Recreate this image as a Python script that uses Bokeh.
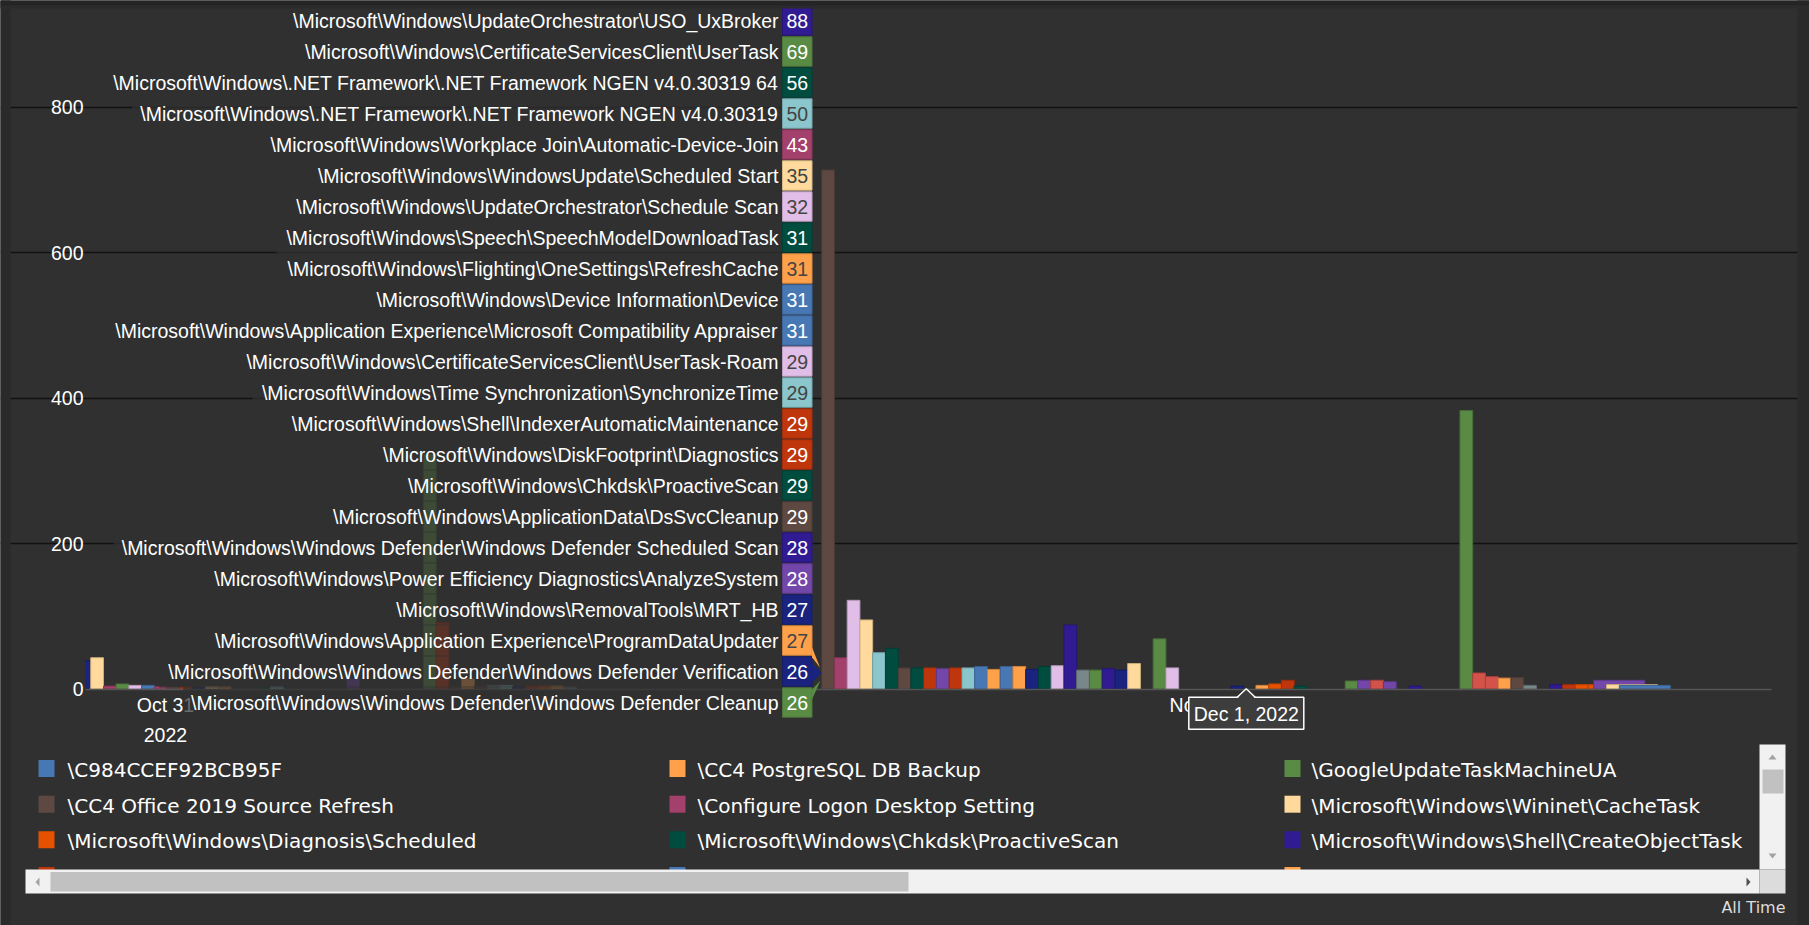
from bokeh.plotting import figure
from bokeh.models import Range1d, LinearAxis, FixedTicker, Grid, ColumnDataSource
from bokeh.core.properties import value
from bokeh.embed import file_html
from bokeh.resources import INLINE

# ------------------------------------------------------------------ data
PALETTE = {
    "blue": "#4878b4", "orange": "#ffa14b", "green": "#5a8b45", "brown": "#5d4842",
    "magenta": "#a3406b", "yellow": "#ffda9c", "orangered": "#e65100", "darkgreen": "#004d40",
    "indigo": "#311b92", "crimson": "#bf360c", "navy": "#1a237e", "purple": "#7346aa",
    "lightblue": "#8ac6cc", "lavender": "#e1bee7", "gray": "#78888a", "red": "#d3524a",
}

# bar positions are in "bar slots" along the time axis
bar_x = [-0.09, 0.91, 1.92, 2.9, 3.9, 4.9, 5.9, 6.9, 7.9, 8.9, 9.9, 10.9, 14.0, 15.0,
         21.0, 27.0, 28.0, 29.0, 30.0, 31.0, 32.0, 33.0, 34.0, 35.0, 36.0, 37.0, 38.0,
         58.24, 59.24, 60.24, 61.24, 62.24, 63.24, 64.24, 65.24, 66.24, 67.24, 68.24,
         69.24, 70.24, 71.24, 72.24, 73.24, 74.24, 75.24, 76.24, 77.24, 78.24, 79.24,
         80.24, 81.24, 82.24, 84.24, 85.24,
         90.33, 92.3, 93.3, 94.3, 95.3, 99.3, 100.3, 101.3, 102.3, 104.3,
         108.3, 109.3, 110.3, 111.3, 112.3, 113.3,
         115.35, 116.35, 117.35, 118.35, 120.3, 121.3, 122.3]
bar_value = [39, 43, 4, 7, 5, 5, 3, 3, 3, 2, 3, 3, 3, 3,
             14, 323, 91, 3, 14, 4, 5, 5, 3, 4, 4, 4, 3,
             714, 43, 122, 95, 50, 56, 29, 29, 29, 28, 29,
             29, 31, 27, 31, 31, 27, 31, 32, 88, 26, 26,
             28, 26, 35, 69, 29,
             4, 5, 7, 12, 4, 11, 12, 12, 10, 4,
             383, 22, 17, 15, 16, 5,
             6, 6, 6, 6, 12, 6, 5]
bar_series = ["navy", "yellow", "magenta", "green", "lavender", "blue", "magenta", "brown",
              "crimson", "navy", "yellow", "orange", "darkgreen", "lightblue",
              "purple", "green", "crimson", "brown", "orange", "brown", "gray", "lightblue",
              "navy", "crimson", "orangered", "orange", "gray",
              "brown", "magenta", "lavender", "yellow", "lightblue", "darkgreen", "brown",
              "darkgreen", "crimson", "purple", "crimson", "lightblue", "blue", "orange",
              "blue", "orange", "navy", "darkgreen", "lavender", "indigo", "gray", "green",
              "indigo", "navy", "yellow", "green", "lavender",
              "navy", "orange", "orangered", "crimson", "darkgreen", "green", "purple", "red",
              "purple", "indigo",
              "green", "red", "red", "orange", "brown", "gray",
              "indigo", "crimson", "orangered", "orangered", "purple", "yellow", "blue"]
bar_span = [1] * (len(bar_x) - 3) + [4, 4, 4]

y_ticks = [0, 200, 400, 600, 800]
x_tick_pos = [6.27, 87.45]
x_tick_labels = ["Oct 31\n2022", "Nov 30"]

tip_title = "Dec 1, 2022"
tip_labels = [
    "\\Microsoft\\Windows\\UpdateOrchestrator\\USO_UxBroker",
    "\\Microsoft\\Windows\\CertificateServicesClient\\UserTask",
    "\\Microsoft\\Windows\\.NET Framework\\.NET Framework NGEN v4.0.30319 64",
    "\\Microsoft\\Windows\\.NET Framework\\.NET Framework NGEN v4.0.30319",
    "\\Microsoft\\Windows\\Workplace Join\\Automatic-Device-Join",
    "\\Microsoft\\Windows\\WindowsUpdate\\Scheduled Start",
    "\\Microsoft\\Windows\\UpdateOrchestrator\\Schedule Scan",
    "\\Microsoft\\Windows\\Speech\\SpeechModelDownloadTask",
    "\\Microsoft\\Windows\\Flighting\\OneSettings\\RefreshCache",
    "\\Microsoft\\Windows\\Device Information\\Device",
    "\\Microsoft\\Windows\\Application Experience\\Microsoft Compatibility Appraiser",
    "\\Microsoft\\Windows\\CertificateServicesClient\\UserTask-Roam",
    "\\Microsoft\\Windows\\Time Synchronization\\SynchronizeTime",
    "\\Microsoft\\Windows\\Shell\\IndexerAutomaticMaintenance",
    "\\Microsoft\\Windows\\DiskFootprint\\Diagnostics",
    "\\Microsoft\\Windows\\Chkdsk\\ProactiveScan",
    "\\Microsoft\\Windows\\ApplicationData\\DsSvcCleanup",
    "\\Microsoft\\Windows\\Windows Defender\\Windows Defender Scheduled Scan",
    "\\Microsoft\\Windows\\Power Efficiency Diagnostics\\AnalyzeSystem",
    "\\Microsoft\\Windows\\RemovalTools\\MRT_HB",
    "\\Microsoft\\Windows\\Application Experience\\ProgramDataUpdater",
    "\\Microsoft\\Windows\\Windows Defender\\Windows Defender Verification",
    "\\Microsoft\\Windows\\Windows Defender\\Windows Defender Cleanup",
]
tip_values = [88, 69, 56, 50, 43, 35, 32, 31, 31, 31, 31, 29, 29, 29, 29, 29, 29, 28, 28, 27, 27, 26, 26]
tip_series = ["indigo", "green", "darkgreen", "lightblue", "magenta", "yellow", "lavender",
              "darkgreen", "orange", "blue", "blue", "lavender", "lightblue", "crimson",
              "crimson", "darkgreen", "brown", "indigo", "purple", "navy", "orange", "navy", "green"]

legend_labels = [
    "\\C984CCEF92BCB95F", "\\CC4 PostgreSQL DB Backup", "\\GoogleUpdateTaskMachineUA",
    "\\CC4 Office 2019 Source Refresh", "\\Configure Logon Desktop Setting", "\\Microsoft\\Windows\\Wininet\\CacheTask",
    "\\Microsoft\\Windows\\Diagnosis\\Scheduled", "\\Microsoft\\Windows\\Chkdsk\\ProactiveScan", "\\Microsoft\\Windows\\Shell\\CreateObjectTask",
]
legend_series = ["blue", "orange", "green", "brown", "magenta", "yellow",
                 "orangered", "darkgreen", "indigo"]
# next legend row, scrolled out of view (only the top edge of its markers shows)
legend_hidden_series = ["crimson", "blue", "orange"]
range_label = "All Time"

# ------------------------------------------------------------------ layout helpers
W, H = 1809, 925
BG = "#303030"
X0, SLOT = 85.0, 12.75       # px of slot 0 edge, px per slot
Y0, UNIT = 688.5, 0.727      # px of value 0, px per unit
PLOT_R = 1771.0
ARIAL = value("Liberation Sans")
DEJAVU = value("DejaVu Sans")


def sx(px):
    return (px - X0) / SLOT


def sy(py):
    return (Y0 - py) / UNIT


def darker(h, f=0.8):
    h = h.lstrip("#")
    r, g, b = (int(h[i:i + 2], 16) for i in (0, 2, 4))
    return "#%02x%02x%02x" % (int(r * f), int(g * f), int(b * f))


_chars = " !\"#$%&'()*+,-./0123456789:;<=>?@ABCDEFGHIJKLMNOPQRSTUVWXYZ[\\]^_`abcdefghijklmnopqrstuvwxyz"
_w = ([278, 278, 355, 556, 556, 889, 667, 191, 333, 333, 389, 584, 278, 333, 278, 278]
      + [556] * 10 + [278, 278, 584, 584, 584, 556, 1015]
      + [667, 667, 722, 722, 667, 611, 778, 722, 278, 500, 667, 556, 833, 722, 778, 667, 778,
         722, 667, 611, 722, 667, 944, 667, 667, 611]
      + [278, 278, 278, 469, 556, 333]
      + [556, 556, 500, 556, 556, 278, 556, 556, 222, 222, 500, 222, 833, 556, 556, 556, 556,
         333, 500, 278, 556, 500, 722, 500, 500, 500])
AW = dict(zip(_chars, _w))


def arial_width(t, size=19.5):
    return sum(AW.get(c, 556) for c in t) * size / 1000.0


# ------------------------------------------------------------------ figure
p = figure(width=W, height=H, x_range=Range1d(sx(0), sx(W)), y_range=Range1d(sy(H), sy(0)),
           x_axis_type=None, y_axis_type=None, output_backend="svg", toolbar_location=None,
           min_border=0, background_fill_color=BG, border_fill_color=BG, outline_line_color=None)

grid = Grid(dimension=1, ticker=FixedTicker(ticks=y_ticks[1:]), bounds=(0, sx(PLOT_R)),
            grid_line_color="#121212", grid_line_width=1.3)
p.add_layout(grid)

yaxis = LinearAxis(ticker=FixedTicker(ticks=y_ticks), fixed_location=0,
                   axis_line_color=None, major_tick_line_color=None, minor_tick_line_color=None,
                   major_tick_out=0, major_tick_in=0, major_label_standoff=2,
                   major_label_text_color="#ffffff", major_label_text_font="Liberation Sans",
                   major_label_text_font_size="19.5px")
p.add_layout(yaxis, "left")

xaxis = LinearAxis(ticker=FixedTicker(ticks=x_tick_pos), fixed_location=0,
                   major_label_overrides={k: v for k, v in zip(x_tick_pos, x_tick_labels)},
                   bounds=(0, sx(PLOT_R)), axis_line_color="#555555", axis_line_width=1.5,
                   major_tick_line_color=None, minor_tick_line_color=None,
                   major_tick_out=0, major_tick_in=0, major_label_standoff=5,
                   major_label_text_color="#ffffff", major_label_text_font="Liberation Sans",
                   major_label_text_font_size="19.5px", major_label_text_line_height=1.38)
p.add_layout(xaxis, "below")

# bars
bars = ColumnDataSource(dict(
    x=bar_x, top=bar_value, w=bar_span,
    fill=[PALETTE[s] for s in bar_series],
    line=[darker(PALETTE[s]) for s in bar_series]))
p.vbar(x="x", top="top", bottom=0, width="w", fill_color="fill", line_color="line",
       line_width=1, source=bars)
# clip at the plot's left edge
p.quad(left=sx(60), right=0, bottom=sy(Y0 + 1), top=sy(600), fill_color=BG, line_color=None)

# ------------------------------------------------------------------ hover tooltip list
ROW0, ROWH = 20.0, 31.0
TXT_R, BOX_L, BOX_R = 778.0, 782.0, 811.5
n = len(tip_labels)
cy = [ROW0 + ROWH * i for i in range(n)]
light = {"lightblue", "yellow", "lavender", "orange"}
p.quad(left=[sx(TXT_R - arial_width(t) - 8) for t in tip_labels], right=sx(BOX_L),
       top=[sy(c - 16) for c in cy], bottom=[sy(c + 16) for c in cy],
       fill_color=BG, fill_alpha=0.72, line_color=None, level="annotation")
p.quad(left=sx(BOX_L), right=sx(BOX_R), top=[sy(c - 14.7) for c in cy],
       bottom=[sy(c + 14.7) for c in cy], fill_color=[PALETTE[s] for s in tip_series],
       line_color=[darker(PALETTE[s], 0.85) for s in tip_series], line_width=1, level="annotation")
# callout pointers
call_rows = [20, 21, 22]
call_px = [[(BOX_R, 646.7), (BOX_R, 656.7), (819.5, 667)],
           [(BOX_R, 662.5), (BOX_R, 682), (821, 672.5)],
           [(BOX_R, 689), (BOX_R, 699), (820, 680)]]
p.patches(xs=[[sx(a) for a, b in pts] for pts in call_px],
          ys=[[sy(b) for a, b in pts] for pts in call_px],
          fill_color=[PALETTE[tip_series[r]] for r in call_rows], line_color=None, level="annotation")
p.text(x=sx(TXT_R), y=[sy(c) for c in cy], text=tip_labels, text_align="right",
       text_baseline="middle", text_color="#ffffff", text_font=ARIAL,
       text_font_size="19.5px", level="annotation")
p.text(x=sx((BOX_L + BOX_R) / 2), y=[sy(c + 0.5) for c in cy], text=[str(v) for v in tip_values],
       text_align="center", text_baseline="middle",
       text_color=["#444444" if s in light else "#ffffff" for s in tip_series],
       text_font=ARIAL, text_font_size="19.5px", level="annotation")

# date tooltip
bx0, bx1, by0, by1 = 1188.3, 1303.3, 696.7, 728.7
ax, ay = 1245.7, 688.3
p.quad(left=sx(bx0), right=sx(bx1), top=sy(by0), bottom=sy(by1), fill_color="#3d3d3d",
       line_color="#ffffff", line_width=1.5, level="annotation")
p.patch([sx(ax - 9), sx(ax), sx(ax + 9)], [sy(by0 + 1.5), sy(ay), sy(by0 + 1.5)],
        fill_color="#3d3d3d", line_color=None, level="annotation")
p.line([sx(ax - 9), sx(ax), sx(ax + 9)], [sy(by0), sy(ay), sy(by0)], line_color="#ffffff",
       line_width=1.5, level="annotation")
p.text(x=[sx((bx0 + bx1) / 2)], y=[sy((by0 + by1) / 2 + 0.5)], text=[tip_title],
       text_align="center", text_baseline="middle", text_color="#ffffff", text_font=ARIAL,
       text_font_size="19.5px", level="annotation")

# ------------------------------------------------------------------ legend (3 columns)
col_mark = [38.0, 669.0, 1284.0]
col_text = [67.0, 697.0, 1311.0]
row_y = [768.5, 804.2, 839.8, 875.5]
n_leg = len(legend_labels)
lx = [col_mark[i % 3] for i in range(n_leg + 3)]
ly = [row_y[i // 3] for i in range(n_leg + 3)]
p.quad(left=[sx(x) for x in lx], right=[sx(x + 16) for x in lx],
       top=[sy(y - 9) for y in ly], bottom=[sy(y + 8) for y in ly],
       fill_color=[PALETTE[s] for s in legend_series + legend_hidden_series], line_color=None)
p.text(x=[sx(col_text[i % 3]) for i in range(n_leg)], y=[sy(y + 1) for y in ly[:n_leg]],
       text=legend_labels, text_align="left", text_baseline="middle", text_color="#ffffff",
       text_font=DEJAVU, text_font_size="20px")

# scrollbars of the legend box
def box(l, r, t, b, color):
    p.quad(left=sx(l), right=sx(r), top=sy(t), bottom=sy(b), fill_color=color, line_color=None)

box(1759, 1785, 744, 869, "#f1f1f1")
box(25, 1759, 869, 893, "#f1f1f1")
box(1759, 1785, 869, 893, "#dcdcdc")
box(1762, 1783, 769, 793, "#c1c1c1")
box(50, 908, 871.5, 891, "#c1c1c1")
arrows = [[(1768, 759), (1776, 759), (1772, 754)],
          [(1768, 853), (1776, 853), (1772, 858)],
          [(39, 877), (39, 886), (35, 881.5)],
          [(1746, 877), (1746, 886), (1750, 881.5)]]
p.patches(xs=[[sx(a) for a, b in t] for t in arrows], ys=[[sy(b) for a, b in t] for t in arrows],
          fill_color=["#a3a3a3", "#a3a3a3", "#a3a3a3", "#505050"], line_color=None)
p.text(x=[sx(1785)], y=[sy(907)], text=[range_label], text_align="right", text_baseline="middle",
       text_color="#dddddd", text_font=DEJAVU, text_font_size="16px")

# window chrome: top bar and side strips
def chrome(l, r, t, b, color):
    p.quad(left=sx(l), right=sx(r), top=sy(t), bottom=sy(b), fill_color=color, line_color=None,
           level="overlay")

chrome(0, 10, 0, H, "#2a2a2a")
chrome(1797, W, 0, H, "#2a2a2a")
chrome(0, W, 0, 5, "#252525")
chrome(0, W, 5, 8, "#2b2b2b")

open("out.html", "w").write(file_html(p, INLINE))
